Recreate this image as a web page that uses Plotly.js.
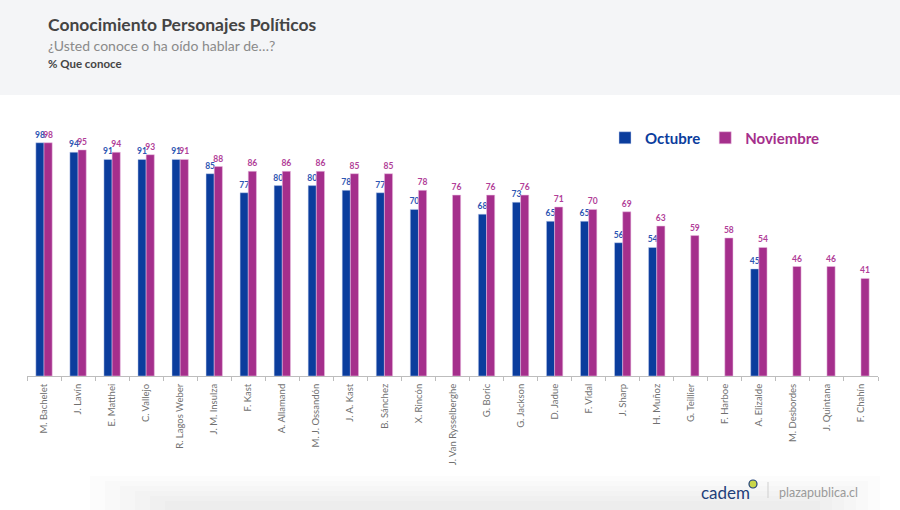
<!DOCTYPE html>
<html>
<head>
<meta charset="utf-8">
<script src="https://cdn.plot.ly/plotly-3.0.1.min.js"></script>
<style>html,body{margin:0;padding:0;background:#fff;}#chart{width:900px;height:510px;}</style>
</head>
<body>
<div id="chart"></div>
<script>
const categories = ["M. Bachelet","J. Lavín","E. Matthei","C. Vallejo","R. Lagos Weber","J. M. Insulza","F. Kast","A. Allamand","M. J. Ossandón","J. A. Kast","B. Sánchez","X. Rincón","J. Van Rysselberghe","G. Boric","G. Jackson","D. Jadue","F. Vidal","J. Sharp","H. Muñoz","G. Teillier","F. Harboe","A. Elizalde","M. Desbordes","J. Quintana","F. Chahín"];
const octubre = [98,94,91,91,91,85,77,80,80,78,77,70,null,68,73,65,65,56,54,null,null,45,null,null,null];
const noviembre = [98,95,94,93,91,88,86,86,86,85,85,78,76,76,76,71,70,69,63,59,58,54,46,46,41];

const BLUE = '#0b3d9d', MAG = '#a52f8c';
const T = 138, B = 376, H = B - T;
const py = p => (B - p) / H;
const L = 27, W = 851;
const px = p => (p - L) / W;

const traces = [
  {type:'bar', x:categories, y:octubre, name:'<b><span style="color:'+BLUE+'">Octubre</span></b>',
   marker:{color:BLUE, line:{color:'rgba(200,210,240,0.8)', width:0.6}},
   text:octubre.map(v=>v==null?'':String(v)), textposition:'outside', constraintext:'none', cliponaxis:false,
   textfont:{family:'Lato, sans-serif', size:8.5, color:'#2d56b3', weight:'bold'}, hoverinfo:'x+y'},
  {type:'bar', x:categories, y:noviembre, name:'<b><span style="color:'+MAG+'">Noviembre</span></b>',
   marker:{color:MAG, line:{color:'rgba(235,190,225,0.9)', width:0.6}},
   text:noviembre.map(String), textposition:'outside', constraintext:'none', cliponaxis:false,
   textfont:{family:'Lato, sans-serif', size:8.5, color:'#b13e98', weight:'bold'}, hoverinfo:'x+y'}
];

const shadow = [];
for (let i = 0; i < 6; i++) {
  shadow.push({type:'rect', xref:'paper', yref:'paper', x0:px(90 + i*15), x1:px(880 - i*12),
    y0:py(476 + i*5), y1:py(520), fillcolor:'rgba(200,200,200,0.06)', line:{width:0}, layer:'below'});
}

const layout = {
  width:900, height:510,
  margin:{l:L, r:900-L-W, t:T, b:510-B, pad:0, autoexpand:false},
  paper_bgcolor:'#ffffff', plot_bgcolor:'#ffffff',
  barmode:'group', bargap:0.52, bargroupgap:0,
  font:{family:'Lato, sans-serif', color:'#666'},
  showlegend:true,
  legend:{orientation:'h', x:px(605), y:py(138), xanchor:'left', yanchor:'middle',
          font:{size:15, family:'Lato, sans-serif'}, bgcolor:'rgba(0,0,0,0)', itemwidth:30},
  xaxis:{type:'category', showline:true, linecolor:'#bdbdbd', linewidth:1, ticks:'outside', ticklen:4,
         tickcolor:'#bdbdbd', tickson:'boundaries', tickangle:-90, showgrid:false, zeroline:false,
         ticklabelstandoff:3,
         tickfont:{family:'Lato, sans-serif', size:9.5, color:'#707070'}, fixedrange:true},
  yaxis:{range:[0,100], visible:false, showgrid:false, zeroline:false, fixedrange:true},
  shapes:[
    {type:'rect', xref:'paper', yref:'paper', x0:-0.1, x1:1.1, y0:py(95), y1:py(-5), fillcolor:'#f4f5f7', line:{width:0}, layer:'below'},
    ...shadow,
    {type:'line', xref:'paper', yref:'paper', x0:px(768), x1:px(768), y0:py(482), y1:py(498), line:{color:'#cfcfcf', width:1}},
    {type:'circle', xref:'paper', yref:'paper', x0:px(749), x1:px(757), y0:py(488), y1:py(480), line:{color:'#1f3f7a', width:1.2}, fillcolor:'#c9d64a'}
  ],
  annotations:[
    {xref:'paper', yref:'paper', x:px(46), y:py(25), xanchor:'left', yanchor:'middle', showarrow:false,
     text:'<b>Conocimiento Personajes Políticos</b>', font:{size:17.5, color:'#444444', family:'Lato, sans-serif'}},
    {xref:'paper', yref:'paper', x:px(46), y:py(45), xanchor:'left', yanchor:'middle', showarrow:false,
     text:'¿Usted conoce o ha oído hablar de…?', font:{size:14, color:'#8a8a8a', family:'Lato, sans-serif'}},
    {xref:'paper', yref:'paper', x:px(46), y:py(63), xanchor:'left', yanchor:'middle', showarrow:false,
     text:'<b>% Que conoce</b>', font:{size:11.5, color:'#444444', family:'Lato, sans-serif'}},
    {xref:'paper', yref:'paper', x:px(699), y:py(492), xanchor:'left', yanchor:'middle', showarrow:false,
     text:'cadem', font:{size:17, color:'#1f3f7a', family:'Lato, sans-serif'}},
    {xref:'paper', yref:'paper', x:px(777), y:py(492), xanchor:'left', yanchor:'middle', showarrow:false,
     text:'plazapublica.cl', font:{size:12.5, color:'#9a9a9a', family:'Lato, sans-serif'}}
  ]
};

Plotly.newPlot('chart', traces, layout, {displayModeBar:false, staticPlot:true});
</script>
</body>
</html>
